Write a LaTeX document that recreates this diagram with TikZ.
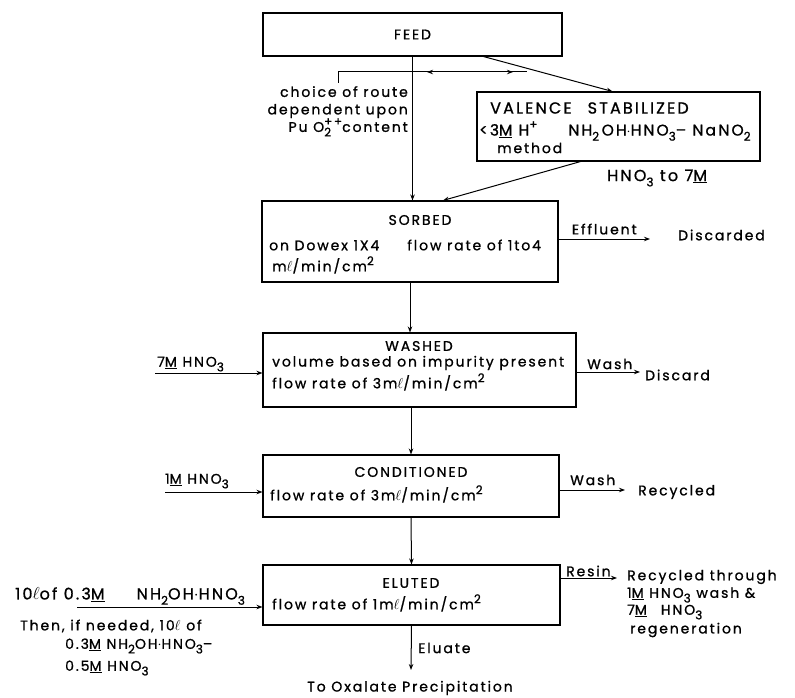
\documentclass[tikz,border=0pt]{standalone}
\usepackage{fontspec}
\setmainfont{Poppins}[LetterSpace=13.5, FakeBold=1]
\usepackage{tikz}
\usetikzlibrary{positioning,arrows.meta,decorations.markings}
\newcommand{\lowr}[1]{\raisebox{-0.6ex}{\fontsize{12}{12}\selectfont #1}}
\newcommand{\hiwr}[1]{\raisebox{0.8ex}{\fontsize{12}{12}\selectfont #1}}
\newcommand{\mol}{\underline{M}}

\begin{document}
\begin{tikzpicture}[x=1pt, y=-1pt,
    stage/.style={draw, line width=1.1pt, inner sep=0pt},
    txt/.style={inner sep=0pt, font=\fontsize{14}{17.5}\selectfont},
    bigtxt/.style={inner sep=0pt, font=\fontsize{16}{18}\selectfont},
    flow/.style={-{Stealth[length=6pt, width=4.5pt]}, line width=1pt},
]
\useasboundingbox (0,0) rectangle (795,698);

% Process stages
\node[stage, txt, minimum width=299pt, minimum height=43pt] (feed) at (412.5,34.5) {FEED};
\node[stage, minimum width=283pt, minimum height=69pt] (valence) at (618.5,126.5) {};
\node[stage, minimum width=296pt, minimum height=81pt] (sorbed) at (410,241.5) {};
\node[stage, minimum width=313pt, minimum height=74pt] (washed) at (419.5,370) {};
\node[stage, minimum width=296pt, minimum height=62pt] (cond) at (411,486) {};
\node[stage, minimum width=297pt, minimum height=60pt] (eluted) at (411.5,595) {};

% Choice of route
\coordinate (routeA) at (338,83);
\coordinate (routeB) at (527,72);
\draw[line width=1pt, postaction=decorate, decoration={markings,
    mark=at position 0.53 with {\arrow{Stealth[length=6pt, width=4.5pt, reversed]}},
    mark=at position 0.93 with {\arrow{Stealth[length=6pt, width=4.5pt]}}}]
    (routeA) |- (routeB);
\node[txt, anchor=north east, align=right] (route) at (408,86)
    {choice of route\\dependent upon\\Pu O\rlap{\lowr{2}}\hiwr{++}content};

% Valence stabilized branch
\node[bigtxt, anchor=west] (valT) at (490,108) {VALENCE\quad STABILIZED};
\node[txt, anchor=west] (valL2) at (479,131)
    {\fontsize{15.5}{18}\selectfont <3\mol{} H\hiwr{+}\qquad NH\lowr{2}\,OH$\cdot$HNO\lowr{3}-- Na\,NO\lowr{2}};
\node[txt, anchor=west] (valL3) at (497,148) {method};
\node[bigtxt, anchor=west] (acid) at (607,178) {HNO\lowr{3} to 7\mol};
\draw[flow] (feed.south) -- (feed.south |- sorbed.north);
\draw[flow] ([xshift=71pt]feed.south) -- ([xshift=-6pt]valence.north);
\draw[flow] ([xshift=-38pt]valence.south) -- ([xshift=33pt]sorbed.north);

% Sorbed
\node[txt] (sorbT) at (420,220) {SORBED};
\node[txt, anchor=west] (sorbL2) at (269,245) {on Dowex 1X4\qquad flow rate of 1to4};
\node[txt, anchor=west] (sorbL3) at (272,265) {m$\ell$/min/cm\hiwr{2}};
\coordinate (effl) at (650,239);
\draw[flow] (sorbed.east |- effl) -- node[txt, above=4pt] {Effluent} (effl);
\node[txt, anchor=west] (disc) at (678,235) {Discarded};

% Washed
\node[txt] (washT) at (419,346) {WASHED};
\node[txt, anchor=west] (washL2) at (272,363) {volume based on impurity present};
\node[txt, anchor=west] (washL3) at (272,382) {flow rate of 3m$\ell$/min/cm\hiwr{2}};
\coordinate (wIn) at (155,373);
\coordinate (wOut) at (640,372);
\draw[flow] (sorbed.south) -- (sorbed.south |- washed.north);
\draw[flow] (wIn) -- (wIn -| washed.west);
\draw[flow] (washed.east |- wOut) -- (wOut);
\node[txt, anchor=west] (wInL) at (157,364) {7\mol{} HNO\lowr{3}};
\node[txt, anchor=west] (wOutL) at (587,364) {Wash};
\node[txt, anchor=west] (discard) at (645,375) {Discard};

% Conditioned
\node[txt] (condT) at (411,472) {CONDITIONED};
\node[txt, anchor=west] (condL2) at (270,494) {flow rate of 3m$\ell$/min/cm\hiwr{2}};
\coordinate (cIn) at (165,492);
\coordinate (cOut) at (625,490);
\draw[flow] (cond.north |- washed.south) -- (cond.north);
\draw[flow] (cIn) -- (cIn -| cond.west);
\draw[flow] (cond.east |- cOut) -- (cOut);
\node[txt, anchor=west] (cInL) at (165,481) {1\mol{} HNO\lowr{3}};
\node[txt, anchor=west] (cOutL) at (570,480) {Wash};
\node[txt, anchor=west] (recyc) at (638,492) {Recycled};

% Eluted
\node[txt] (eluT) at (411,583) {ELUTED};
\node[txt, anchor=west] (eluL2) at (272,603) {flow rate of 1m$\ell$/min/cm\hiwr{2}};
\coordinate (eIn) at (77,607);
\coordinate (rOut) at (617,578);
\coordinate (eOut) at (411,670);
\draw[flow] (cond.south) -- (eluted.north);
\draw[flow] (eIn) -- (eIn -| eluted.west);
\draw[flow] (eluted.east |- rOut) -- (rOut);
\draw[flow] (eluted.south) -- (eOut);
\node[bigtxt, anchor=west] (eInL1) at (15,596) {10$\ell$of 0.3\mol\qquad NH\lowr{2}OH$\cdot$HNO\lowr{3}};
\node[txt, anchor=west] (eInL2) at (20,626) {Then, if needed, 10$\ell$ of};
\node[txt, anchor=west] (eInL3) at (65,646) {0.3\mol{} NH\lowr{2}OH$\cdot$HNO\lowr{3}--};
\node[txt, anchor=west] (eInL4) at (65,668) {0.5\mol{} HNO\lowr{3}};
\node[txt, anchor=west] (resin) at (566,571) {Resin};
\node[txt, anchor=west] (rL1) at (627,577) {Recycled through};
\node[txt, anchor=west] (rL2) at (627,595) {1\mol{} HNO\lowr{3} wash \&};
\node[txt, anchor=west] (rL3) at (627,612) {7\mol{}\quad HNO\lowr{3}};
\node[txt, anchor=west] (rL4) at (630,630) {regeneration};
\node[txt, anchor=west] (eluate) at (418,648) {Eluate};
\node[txt] (oxal) at (410,688) {To Oxalate Precipitation};
\end{tikzpicture}
\end{document}
